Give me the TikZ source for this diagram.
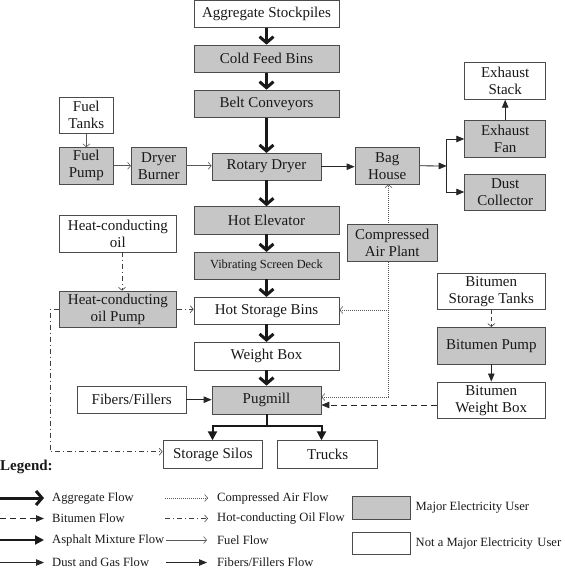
\documentclass[tikz,border=0pt]{standalone}
\usepackage{fontspec}
\setmainfont{Liberation Serif}
\usetikzlibrary{arrows.meta,calc}
\begin{document}
\begin{tikzpicture}[x=1pt,y=-1pt,
  base/.style={draw=black!70,line width=0.8pt,inner sep=0pt,align=center,text=black!90,
     font=\fontsize{15}{17}\selectfont},
  gbox/.style={base,fill=gray!45},
  wbox/.style={base,fill=white},
  aggflow/.style={line width=3pt,black!90,-{Straight Barb[length=6pt,width=14pt]}},
  asphflow/.style={line width=2pt,black!90,-{Triangle[length=9pt,width=9pt]}},
  dustflow/.style={line width=0.8pt,black!85,-{Triangle[length=8pt,width=6.5pt]}},
  fibflow/.style={line width=0.8pt,black!85,-{Triangle[length=8pt,width=6.5pt]}},
  bitflow/.style={line width=0.9pt,black!85,dash pattern=on 6pt off 4pt,-{Triangle[length=8pt,width=6.5pt]}},
  bitthin/.style={line width=0.6pt,black!75,dash pattern=on 4pt off 3pt,-{Straight Barb[length=3pt,width=7pt]}},
  fuelflow/.style={line width=0.6pt,black!65,-{Straight Barb[length=3pt,width=7pt]}},
  airflow/.style={line width=0.6pt,black!65,dash pattern=on 1pt off 1pt,-{Straight Barb[length=3pt,width=7pt]}},
  oilflow/.style={line width=0.6pt,black!75,dash pattern=on 5pt off 3pt on 1pt off 3pt,-{Straight Barb[length=3pt,width=7pt]}},
  legtext/.style={anchor=west,inner sep=0pt,text=black!90,font=\fontsize{12.6}{15}\selectfont}
]
\useasboundingbox (0,0) rectangle (564,569);

% main column
\node[wbox,minimum width=145,minimum height=27] (agg) at (266.5,14) {Aggregate Stockpiles};
\node[gbox,minimum width=145,minimum height=27.3] (cold) at (266.5,58.7) {Cold Feed Bins};
\node[gbox,minimum width=145,minimum height=27.3] (belt) at (266.5,103.7) {Belt Conveyors};
\node[wbox,minimum width=54,minimum height=36.3] (ftank) at (86.3,115.2) {Fuel\\Tanks};
\node[gbox,minimum width=54,minimum height=36.3] (fpump) at (86.3,165.8) {Fuel\\Pump};
\node[gbox,minimum width=54.7,minimum height=36.3] (burner) at (158.7,165.8) {Dryer\\Burner};
\node[gbox,minimum width=109,minimum height=26.7] (rotary) at (266.5,166.7) {Rotary Dryer};
\node[gbox,minimum width=64.4,minimum height=36.3] (bag) at (387.2,165.8) {Bag\\House};
\node[wbox,minimum width=81,minimum height=37] (stack) at (505.2,80.8) {Exhaust\\Stack};
\node[gbox,minimum width=81,minimum height=36.6] (fan) at (505.2,139) {Exhaust\\Fan};
\node[gbox,minimum width=81,minimum height=36] (dust) at (505.2,192) {Dust\\Collector};
\node[gbox,minimum width=145,minimum height=27.3] (hotelev) at (266.5,220.3) {Hot Elevator};
\node[wbox,minimum width=117,minimum height=36.6] (hcoil) at (117.9,234) {Heat-conducting\\oil};
\node[gbox,minimum width=145,minimum height=26.7,font=\fontsize{12.4}{14}\selectfont] (vib) at (266.5,265.7) {Vibrating Screen Deck};
\node[wbox,minimum width=108.7,minimum height=36] (bst) at (491.3,291.3) {Bitumen\\Storage Tanks};
\node[gbox,minimum width=117,minimum height=36.3] (hcpump) at (117.9,309.2) {Heat-conducting\\oil Pump};
\node[wbox,minimum width=145,minimum height=26.7] (hsb) at (266.5,310.7) {Hot Storage Bins};
\node[gbox,minimum width=108.7,minimum height=36.7] (bpump) at (491.3,345.7) {Bitumen Pump};
\node[wbox,minimum width=145,minimum height=27.7] (wbx) at (266.5,356.2) {Weight Box};
\node[wbox,minimum width=108.7,minimum height=27.3] (fib) at (131.7,399.7) {Fibers/Fillers};
\node[gbox,minimum width=109,minimum height=28] (pug) at (266.5,400) {Pugmill};
\node[wbox,minimum width=108.7,minimum height=36.7] (bwb) at (491.3,400.3) {Bitumen\\Weight Box};
\node[wbox,minimum width=99.6,minimum height=28] (silos) at (212.8,454.7) {Storage Silos};
\node[wbox,minimum width=100,minimum height=28] (trucks) at (327.7,454.7) {Trucks};

% aggregate flow
\draw[aggflow] (agg) -- (cold);
\draw[aggflow] (cold) -- (belt);
\draw[aggflow] (belt) -- (rotary);
\draw[aggflow] (rotary) -- (hotelev);
\draw[aggflow] (hotelev) -- (vib);
\draw[aggflow] (vib) -- (hsb);
\draw[aggflow] (hsb) -- (wbx);
\draw[aggflow] (wbx) -- (pug);

% fuel flow
\draw[fuelflow] (ftank) -- (fpump);
\draw[fuelflow] (fpump) -- (burner);
\draw[fuelflow] (burner.east) -- (burner.east -| rotary.west);

% dust and gas
\coordinate (dj) at (446.7,166);
\draw[dustflow] (rotary.east) -- (rotary.east -| bag.west);
\draw[dustflow] (bag.east) -- (dj);
\draw[dustflow] (dj) |- (fan.west);
\draw[dustflow] (dj) |- (dust.west);
\draw[dustflow] (fan) -- (stack);

% heat-conducting oil
\coordinate (ht) at (122,252.3);
\coordinate (oj) at (50.4,451.7);
\draw[oilflow] (ht) -- (ht |- hcpump.north);
\draw[oilflow] (hcpump.east) -- (hcpump.east -| hsb.west);
\draw[oilflow] (hcpump.west) -| (oj) -- (oj -| silos.west);

% compressed air
\coordinate (aj) at (388.5,397);
\coordinate (ah) at (388.5,310);
\draw[airflow] (aj) -- (aj |- bag.south);
\draw[airflow] (aj) -- (aj -| pug.east);
\draw[airflow] (ah) -- (ah -| hsb.east);
\node[gbox,minimum width=90.4,minimum height=37] (air) at (392.2,242.8) {Compressed\\Air Plant};

% bitumen
\draw[bitthin] (bst) -- (bpump);
\draw[fibflow] (bpump) -- (bwb);
\coordinate (bj) at (437,405);
\draw[bitflow] (bj) -- (bj -| pug.east);

% fibers
\draw[fibflow] (fib.east) -- (fib.east -| pug.west);

% asphalt mixture
\coordinate (pj) at (266.5,426);
\coordinate (sa) at (212.5,426);
\coordinate (ta) at (321.5,426);
\draw[line width=2pt,black!90] (pug.south) -- (pj);
\draw[asphflow] (pj) -- (sa) -- (sa |- silos.north);
\draw[asphflow] (pj) -- (ta) -- (ta |- trucks.north);

% legend
\node[anchor=west,inner sep=0pt,font=\fontsize{15}{17}\bfseries\selectfont,text=black!90] (legend) at (0,467) {Legend:};

\coordinate (l1a) at (0,498);   \coordinate (l1b) at (44,498);
\coordinate (l2a) at (0,518.5); \coordinate (l2b) at (44,518.5);
\coordinate (l3a) at (0,540);   \coordinate (l3b) at (44,540);
\coordinate (l4a) at (0,562.5); \coordinate (l4b) at (44,562.5);
\draw[aggflow] (l1a) -- (l1b);
\draw[bitflow] (l2a) -- (l2b);
\draw[asphflow] (l3a) -- (l3b);
\draw[dustflow] (l4a) -- (l4b);
\node[legtext] (t1) at (52,498) {Aggregate Flow};
\node[legtext] (t2) at (52,518.5) {Bitumen Flow};
\node[legtext] (t3) at (52,540) {Asphalt Mixture Flow};
\node[legtext] (t4) at (52,562.5) {Dust and Gas Flow};

\coordinate (m1a) at (165,498);   \coordinate (m1b) at (208,498);
\coordinate (m2a) at (165,518.5); \coordinate (m2b) at (208,518.5);
\coordinate (m3a) at (166,540);   \coordinate (m3b) at (207,540);
\coordinate (m4a) at (166,562.5); \coordinate (m4b) at (207,562.5);
\draw[airflow] (m1a) -- (m1b);
\draw[oilflow] (m2a) -- (m2b);
\draw[fuelflow] (m3a) -- (m3b);
\draw[fibflow] (m4a) -- (m4b);
\node[legtext] (u1) at (217,498) {Compressed Air Flow};
\node[legtext] (u2) at (217,518.5) {Hot-conducting Oil Flow};
\node[legtext] (u3) at (217,540) {Fuel Flow};
\node[legtext] (u4) at (217,562.5) {Fibers/Fillers Flow};

\node[gbox,minimum width=57.5,minimum height=22.3] (lg) at (381.2,507.8) {};
\node[wbox,minimum width=57.5,minimum height=21.6] (lw) at (381.2,543.5) {};
\node[legtext] (v1) at (415.5,507.8) {Major Electricity User};
\node[legtext] (v2) at (415.5,543.5) {Not a Major Electricity\hspace{4.5pt}User};
\end{tikzpicture}
\end{document}
